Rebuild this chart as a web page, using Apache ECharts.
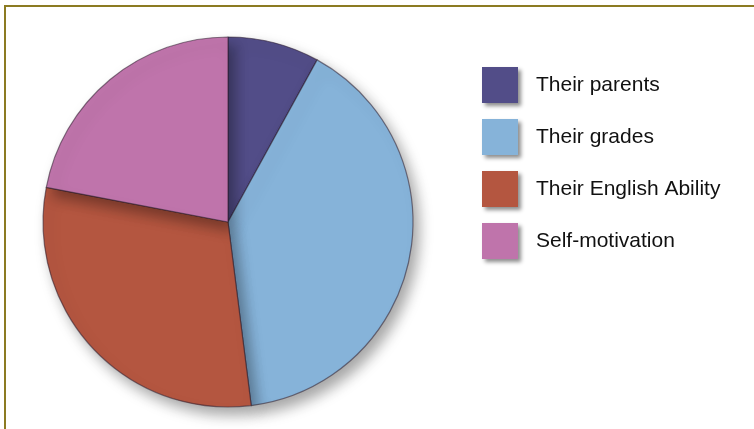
<!DOCTYPE html>
<html>
<head>
<meta charset="utf-8">
<script src="https://cdn.jsdelivr.net/npm/echarts@6/dist/echarts.min.js"></script>
<style>
  html, body { margin: 0; padding: 0; background: #ffffff; }
  #chart { width: 754px; height: 429px; }
</style>
</head>
<body>
<div id="chart"></div>
<script>
// What motivates students: share of responses
const categories = ['Their parents', 'Their grades', 'Their English Ability', 'Self-motivation'];
const shares = [8, 40, 30, 22];
const colors = ['#524d88', '#86b3d9', '#b45640', '#bf74ab'];

const chart = echarts.init(document.getElementById('chart'), null, { renderer: 'canvas' });

const pieData = categories.map((name, i) => ({
  name: name,
  value: shares[i],
  itemStyle: { color: colors[i] }
}));

chart.setOption({
  animation: false,
  backgroundColor: '#ffffff',
  graphic: [
    // olive frame along the top and left edges
    { type: 'rect', shape: { x: 4, y: 5, width: 760, height: 2 }, style: { fill: '#8c7b22' }, silent: true },
    { type: 'rect', shape: { x: 4, y: 5, width: 2, height: 440 }, style: { fill: '#8c7b22' }, silent: true }
  ],
  legend: {
    orient: 'vertical',
    left: 482,
    top: 67,
    padding: 0,
    itemWidth: 36,
    itemHeight: 36,
    itemGap: 16,
    icon: 'rect',
    selectedMode: false,
    data: categories,
    itemStyle: {
      borderWidth: 0,
      shadowBlur: 4,
      shadowOffsetX: 3,
      shadowOffsetY: 3,
      shadowColor: 'rgba(0,0,0,0.45)'
    },
    textStyle: {
      fontFamily: 'Liberation Sans, Arial, sans-serif',
      fontSize: 21,
      color: '#111111',
      padding: [0, 0, 0, 13]
    }
  },
  series: [{
    type: 'pie',
    center: [228, 222],
    radius: [0, 185],
    startAngle: 90,
    clockwise: true,
    label: { show: false },
    labelLine: { show: false },
    emphasis: { disabled: true },
    itemStyle: {
      borderColor: 'rgba(45,30,45,0.55)',
      borderWidth: 1.2,
      shadowBlur: 14,
      shadowOffsetX: 6,
      shadowOffsetY: 8,
      shadowColor: 'rgba(0,0,0,0.35)'
    },
    data: pieData
  }]
});
</script>
</body>
</html>
